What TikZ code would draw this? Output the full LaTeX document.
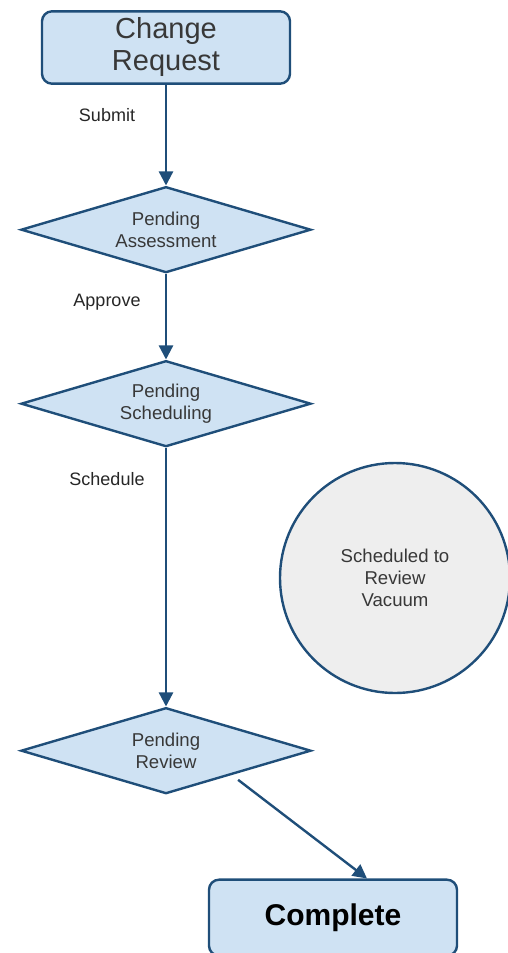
\documentclass[tikz,border=0pt]{standalone}
\usepackage{fontspec}
\setmainfont{Liberation Sans}
\usetikzlibrary{shapes.geometric,arrows.meta,positioning,calc}
\definecolor{edgeblue}{HTML}{1F4E79}
\definecolor{boxblue}{HTML}{CFE2F3}
\definecolor{vacgrey}{HTML}{EEEEEE}
\definecolor{txtgrey}{HTML}{383838}

\begin{document}
\begin{tikzpicture}[x=0.5pt, y=0.5pt,
  block/.style={rectangle, draw=edgeblue, fill=boxblue, line width=1.2pt, rounded corners=5pt, minimum width=124pt, minimum height=35.5pt, align=center, text=txtgrey, font=\fontsize{14.5}{16}\selectfont},
  decision/.style={diamond, aspect=3.37, draw=edgeblue, fill=boxblue, line width=1.2pt, minimum width=145pt, minimum height=43pt, inner sep=0pt, align=center, text=txtgrey, font=\fontsize{9.3}{11}\selectfont},
  vacuum/.style={circle, draw=edgeblue, fill=vacgrey, line width=1.2pt, minimum size=115pt, align=center, text=txtgrey, font=\fontsize{9.3}{11}\selectfont},
  line/.style={draw=edgeblue, line width=1.2pt, -{Triangle[length=7pt,width=7pt]}},
  lbl/.style={font=\fontsize{9}{10}\selectfont, text=black!85}]

  \useasboundingbox (0,0) rectangle (508,-953);

  % Nodes
  \node [block] (request) at (166,-47.5) {Change\\Request};
  \node [decision, below=50.3pt of request] (assess) {Pending\\Assessment};
  \node [decision, below=42.8pt of assess] (sched) {Pending\\Scheduling};
  \node [decision, below=129.3pt of sched] (review) {Pending\\Review};
  \node [block, below=41.8pt of review, xshift=83.5pt, minimum height=38pt, text=black, font=\fontsize{15}{16}\selectfont\bfseries] (complete) {Complete};
  \node [vacuum] (vac) at (395,-578) {Scheduled to\\Review\\Vacuum};

  % Edges
  \path [line] (request) -- node[lbl, pos=.3, xshift=-29.5pt] {Submit} (assess);
  \path [line] (assess) -- node[lbl, pos=.33, xshift=-29.5pt] {Approve} (sched);
  \path [line] (sched) -- node[lbl, pos=.12, xshift=-29.5pt] {Schedule} (review);
  \path [line, shorten <=4pt] ($(review.east)!0.55!(review.south)$) -- ([xshift=17pt]complete.north);

\end{tikzpicture}
\end{document}
